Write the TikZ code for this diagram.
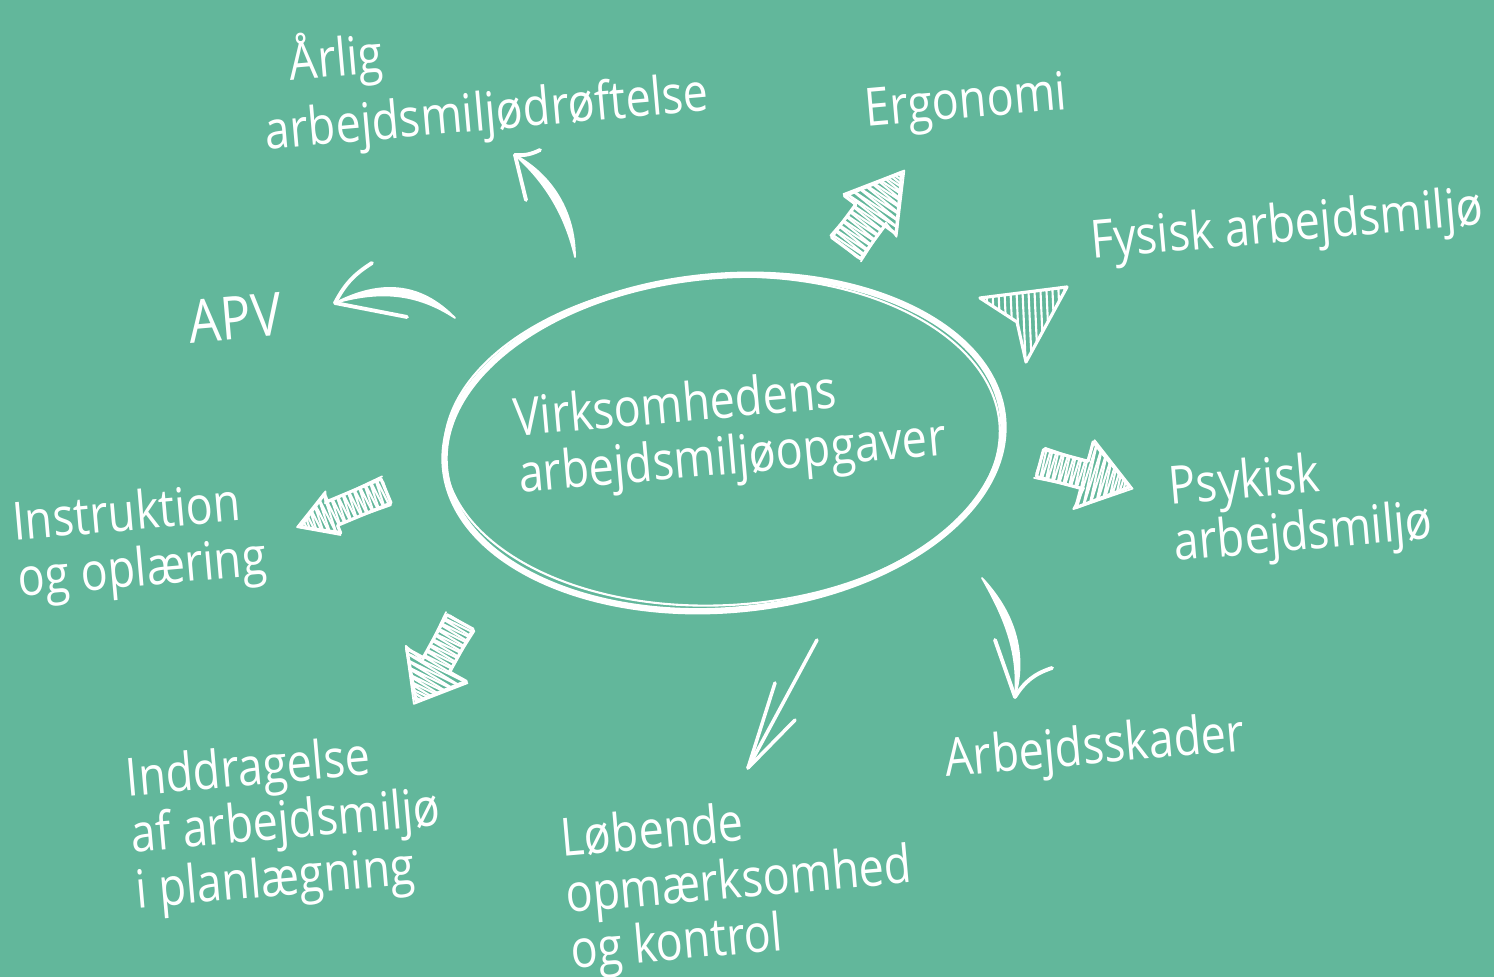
\documentclass[tikz,border=0pt]{standalone}
\usepackage{fontspec}
\setmainfont{Open Sans}[FakeStretch=0.85]
\definecolor{board}{HTML}{62B79B}
\tikzset{
	sketch/.style={draw=white,line width=0.9pt,line cap=round,line join=round},
	hatch/.style={white,line width=0.6pt,line cap=round},
	brush/.style={fill=white,draw=white,line width=0.5pt,line join=round},
	barb/.style={white,line width=1.1pt,line cap=round},
	label/.style={text=white,font=\fontsize{15}{16}\selectfont,align=left,inner sep=0pt,rotate=5}
}
% block arrow along +x: total length, shaft length, shaft half width, head half width
\newcommand{\hatcharrow}[4]{%
	\draw[sketch] (0,#3) -- (#2,#3) -- (#2,#4) -- (#1,0) -- (#2,-#4) -- (#2,-#3) -- (0,-#3) -- cycle;
	\draw[sketch,line width=0.5pt] (-2,#3+2) -- (#2+3,#3-1) -- (#2-2,#4+2) -- (#1+3,1) -- (#2+1,-#4-2) -- (#2-1,-#3+1) -- (1,-#3-2) -- (-1,#3-3);
	\begin{scope}
		\clip (0,#3) -- (#2,#3) -- (#2,#4) -- (#1,0) -- (#2,-#4) -- (#2,-#3) -- (0,-#3) -- cycle;
		\foreach \t in {2,8,...,#1} \draw[hatch] (\t,-#4) -- (\t+3,#4) -- (\t+6,-#4);
	\end{scope}}

\begin{document}
\begin{tikzpicture}[line cap=round,line join=round,x=0.01cm,y=-0.01cm]
	\fill[board] (0,0) rectangle (1494,977);
	\useasboundingbox (0,0) rectangle (1494,977);
	% centre
	\node[label] (task) at (730,432) {Virksomhedens\\arbejdsmiljøopgaver};
	\draw[white,line width=1.8pt,rotate around={5:(724,443)}] (724,443) ellipse [x radius=2.8cm,y radius=1.67cm];
	\draw[white,line width=0.6pt,rotate around={3:(724,443)}] (722,441) ellipse [x radius=2.78cm,y radius=1.64cm];
	% labels
	\node[label] (arlig) at (484,80) {\hspace*{0.3cm}Årlig\\[3pt]arbejdsmiljødrøftelse};
	\node[label] (ergo) at (966,105) {Ergonomi};
	\node[label] (fysisk) at (1287,228) {Fysisk arbejdsmiljø};
	\node[label,font=\fontsize{17}{18}\selectfont] (apv) at (235,318) {APV};
	\node[label] (psyk) at (1301,508) {Psykisk\\arbejdsmiljø};
	\node[label] (instr) at (140,544) {Instruktion\\og oplæring};
	\node[label] (skader) at (1095,750) {Arbejdsskader};
	\node[label] (inddr) at (286,825) {Inddragelse\\af arbejdsmiljø\\i planlægning};
	\node[label] (lob) at (739,884) {Løbende\\opmærksomhed\\og kontrol};
	% curved arrows
	\coordinate (arlig-from) at (575,257);
	\coordinate (arlig-to) at (515,155);
	\draw[brush] (arlig-from) .. controls (575,212) and (552,175) .. (arlig-to) .. controls (545,182) and (565,214) .. (arlig-from);
	\draw[barb] (arlig-to) -- (526,200);
	\draw[barb] (arlig-to) to[bend right=15] (540,150);
	\coordinate (apv-from) at (455,318);
	\coordinate (apv-to) at (335,303);
	\draw[brush] (apv-from) .. controls (420,282) and (380,280) .. (apv-to) .. controls (380,290) and (417,293) .. (apv-from);
	\draw[barb] (apv-to) to[bend left=15] (372,263);
	\draw[barb] (apv-to) -- (407,317);
	\coordinate (skader-from) at (982,578);
	\coordinate (skader-to) at (1015,697);
	\draw[brush] (skader-from) .. controls (1012,610) and (1028,650) .. (skader-to) .. controls (1019,650) and (1003,615) .. (skader-from);
	\draw[barb] (skader-to) -- (995,640);
	\draw[barb] (skader-to) to[bend left=20] (1052,668);
	% thin arrow
	\coordinate (lob-from) at (817,640);
	\coordinate (lob-to) at (748,768);
	\draw[barb,line width=1pt] (lob-from) -- (lob-to);
	\draw[barb,line width=1pt] (lob-to) -- (775,683);
	\draw[barb,line width=1pt] (lob-to) -- (795,720);
	% block arrows
	\begin{scope}[shift={(846,248)},rotate=53.6]
		\hatcharrow{94}{41}{18}{32}
	\end{scope}
	\begin{scope}[shift={(1040,463)},rotate=-14.9]
		\hatcharrow{93}{46}{14}{34}
	\end{scope}
	\begin{scope}[shift={(386,491)},rotate=-157.3]
		\hatcharrow{93}{58}{13}{21}
	\end{scope}
	\begin{scope}[shift={(460,622)},rotate=-118.8]
		\hatcharrow{91}{49}{15}{34}
	\end{scope}
	% arrowhead
	\draw[sketch] (1067,287) -- (980,298) -- (1017,322) -- (1026,362) -- cycle;
	\begin{scope}
		\clip (1067,287) -- (980,298) -- (1017,322) -- (1026,362) -- cycle;
		\foreach \t in {980,986,...,1070} \draw[hatch] (\t,280) -- (\t+4,370);
	\end{scope}
\end{tikzpicture}
\end{document}
